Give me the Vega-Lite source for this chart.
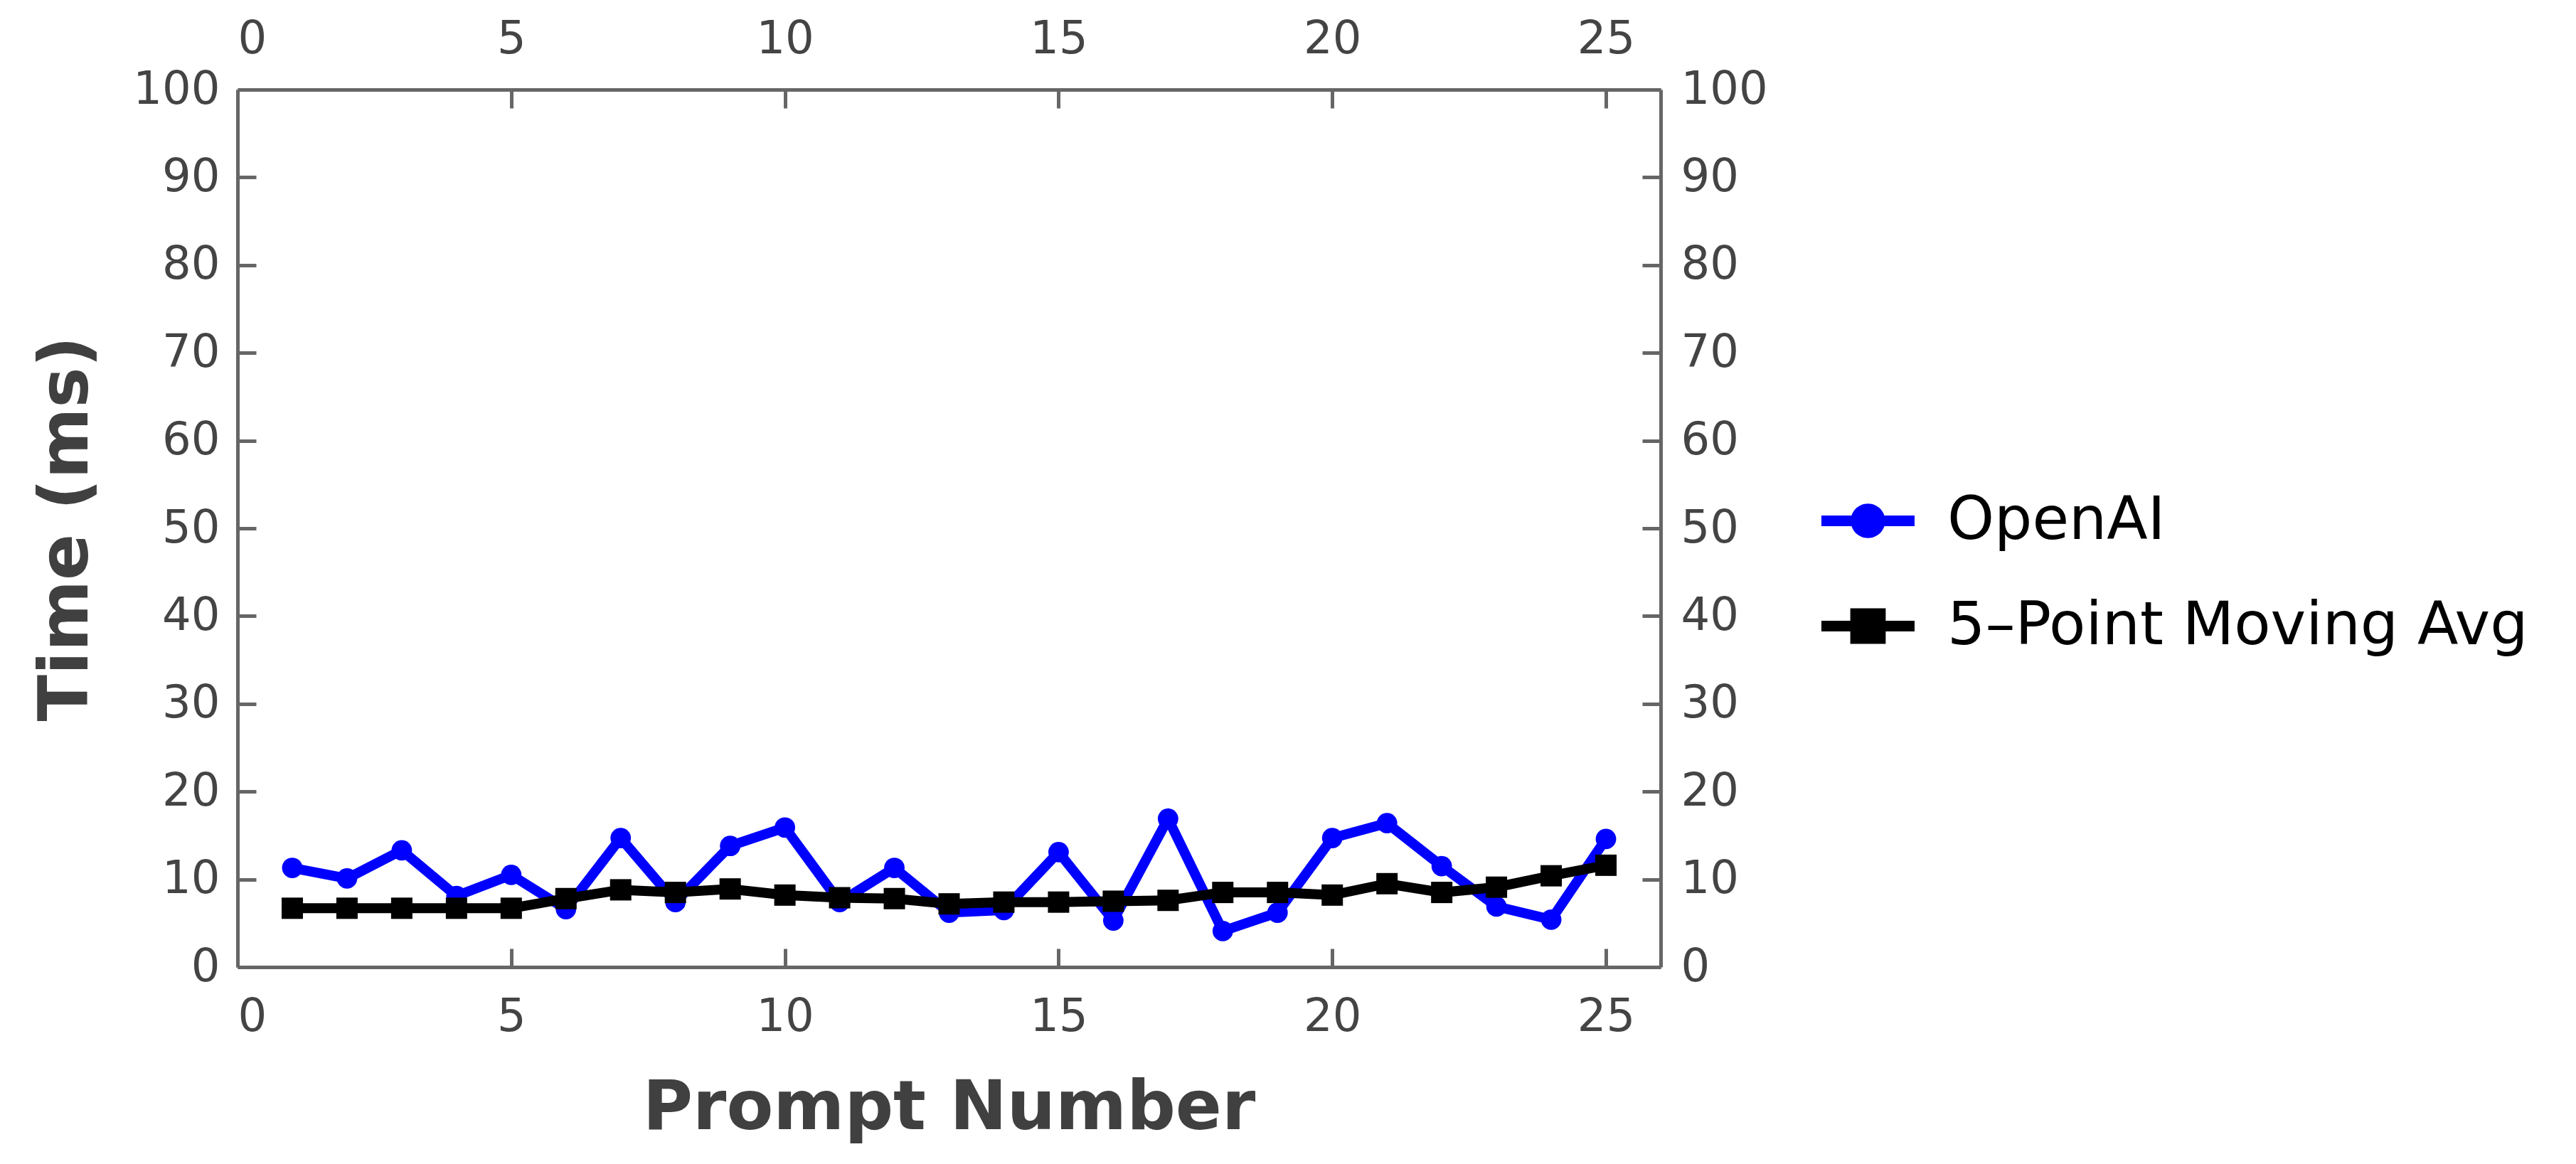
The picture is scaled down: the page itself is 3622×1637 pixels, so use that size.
{
  "$schema": "https://vega.github.io/schema/vega-lite/v6.json",
  "autosize": {"type": "none"},
  "padding": {"left": 334, "top": 126, "right": 1287, "bottom": 277},
  "width": 2001,
  "height": 1234,
  "background": "white",
  "config": {
    "view": {"stroke": null},
    "axis": {
      "grid": false,
      "domainColor": "#666666",
      "domainWidth": 5,
      "tickColor": "#666666",
      "tickWidth": 5,
      "tickSize": -26,
      "labelFont": "DejaVu Sans",
      "labelFontSize": 64,
      "labelColor": "#444444",
      "titleFont": "DejaVu Sans",
      "titleFontSize": 96,
      "titleFontWeight": "bold",
      "titleColor": "#404040"
    }
  },
  "data": {
    "values": [
      {"prompt": 1, "series": "OpenAI", "time": 11.3},
      {"prompt": 2, "series": "OpenAI", "time": 10.1},
      {"prompt": 3, "series": "OpenAI", "time": 13.3},
      {"prompt": 4, "series": "OpenAI", "time": 8.1},
      {"prompt": 5, "series": "OpenAI", "time": 10.5},
      {"prompt": 6, "series": "OpenAI", "time": 6.6},
      {"prompt": 7, "series": "OpenAI", "time": 14.7},
      {"prompt": 8, "series": "OpenAI", "time": 7.4},
      {"prompt": 9, "series": "OpenAI", "time": 13.8},
      {"prompt": 10, "series": "OpenAI", "time": 15.9},
      {"prompt": 11, "series": "OpenAI", "time": 7.4},
      {"prompt": 12, "series": "OpenAI", "time": 11.3},
      {"prompt": 13, "series": "OpenAI", "time": 6.2},
      {"prompt": 14, "series": "OpenAI", "time": 6.5},
      {"prompt": 15, "series": "OpenAI", "time": 13.1},
      {"prompt": 16, "series": "OpenAI", "time": 5.3},
      {"prompt": 17, "series": "OpenAI", "time": 16.9},
      {"prompt": 18, "series": "OpenAI", "time": 4.1},
      {"prompt": 19, "series": "OpenAI", "time": 6.2},
      {"prompt": 20, "series": "OpenAI", "time": 14.7},
      {"prompt": 21, "series": "OpenAI", "time": 16.4},
      {"prompt": 22, "series": "OpenAI", "time": 11.5},
      {"prompt": 23, "series": "OpenAI", "time": 6.9},
      {"prompt": 24, "series": "OpenAI", "time": 5.4},
      {"prompt": 25, "series": "OpenAI", "time": 14.6},
      {"prompt": 1, "series": "5–Point Moving Avg", "time": 6.7},
      {"prompt": 2, "series": "5–Point Moving Avg", "time": 6.7},
      {"prompt": 3, "series": "5–Point Moving Avg", "time": 6.7},
      {"prompt": 4, "series": "5–Point Moving Avg", "time": 6.7},
      {"prompt": 5, "series": "5–Point Moving Avg", "time": 6.7},
      {"prompt": 6, "series": "5–Point Moving Avg", "time": 7.8},
      {"prompt": 7, "series": "5–Point Moving Avg", "time": 8.8},
      {"prompt": 8, "series": "5–Point Moving Avg", "time": 8.5},
      {"prompt": 9, "series": "5–Point Moving Avg", "time": 8.9},
      {"prompt": 10, "series": "5–Point Moving Avg", "time": 8.2},
      {"prompt": 11, "series": "5–Point Moving Avg", "time": 7.9},
      {"prompt": 12, "series": "5–Point Moving Avg", "time": 7.8},
      {"prompt": 13, "series": "5–Point Moving Avg", "time": 7.2},
      {"prompt": 14, "series": "5–Point Moving Avg", "time": 7.4},
      {"prompt": 15, "series": "5–Point Moving Avg", "time": 7.4},
      {"prompt": 16, "series": "5–Point Moving Avg", "time": 7.5},
      {"prompt": 17, "series": "5–Point Moving Avg", "time": 7.6},
      {"prompt": 18, "series": "5–Point Moving Avg", "time": 8.5},
      {"prompt": 19, "series": "5–Point Moving Avg", "time": 8.5},
      {"prompt": 20, "series": "5–Point Moving Avg", "time": 8.2},
      {"prompt": 21, "series": "5–Point Moving Avg", "time": 9.5},
      {"prompt": 22, "series": "5–Point Moving Avg", "time": 8.5},
      {"prompt": 23, "series": "5–Point Moving Avg", "time": 9.1},
      {"prompt": 24, "series": "5–Point Moving Avg", "time": 10.4},
      {"prompt": 25, "series": "5–Point Moving Avg", "time": 11.6}
    ]
  },
  "encoding": {
    "x": {"field": "prompt", "type": "quantitative", "scale": {"domain": [0, 26], "nice": false}},
    "y": {"field": "time", "type": "quantitative", "scale": {"domain": [0, 100], "nice": false}}
  },
  "resolve": {"axis": {"x": "independent", "y": "independent"}},
  "layer": [
    {
      "transform": [{"filter": "datum.series === 'OpenAI'"}],
      "mark": {"type": "line", "color": "#0000ff", "strokeWidth": 14},
      "encoding": {
        "x": {"field": "prompt", "type": "quantitative",
          "axis": {"orient": "bottom", "values": [0, 5, 10, 15, 20, 25], "title": "Prompt Number",
            "labelPadding": 64, "titleX": 1000, "titleY": 227, "titleBaseline": "alphabetic", "titleAnchor": null}},
        "y": {"field": "time", "type": "quantitative",
          "axis": {"orient": "left", "values": [0, 10, 20, 30, 40, 50, 60, 70, 80, 90, 100], "title": "Time (ms)",
            "labelPadding": 51, "titleX": -212, "titleY": 617, "titleAngle": -90, "titleBaseline": "alphabetic", "titleAlign": "center"}}
      }
    },
    {
      "transform": [{"filter": "datum.series === 'OpenAI'"}],
      "mark": {"type": "point", "shape": "circle", "filled": true, "color": "#0000ff", "size": 830, "opacity": 1},
      "encoding": {
        "x": {"field": "prompt", "type": "quantitative",
          "axis": {"orient": "top", "values": [0, 5, 10, 15, 20, 25], "title": null, "labelPadding": 65}},
        "y": {"field": "time", "type": "quantitative",
          "axis": {"orient": "right", "values": [0, 10, 20, 30, 40, 50, 60, 70, 80, 90, 100], "title": null, "labelPadding": 54}}
      }
    },
    {
      "transform": [{"filter": "datum.series !== 'OpenAI'"}],
      "mark": {"type": "line", "color": "#000000", "strokeWidth": 14},
      "encoding": {
        "x": {"field": "prompt", "type": "quantitative", "axis": null},
        "y": {"field": "time", "type": "quantitative", "axis": null}
      }
    },
    {
      "transform": [{"filter": "datum.series !== 'OpenAI'"}],
      "mark": {"type": "point", "shape": "square", "filled": true, "color": "#000000", "size": 900, "opacity": 1},
      "encoding": {
        "x": {"field": "prompt", "type": "quantitative", "axis": null},
        "y": {"field": "time", "type": "quantitative", "axis": null}
      }
    },
    {
      "transform": [{"filter": "datum.prompt < 0"}],
      "mark": {"type": "point", "filled": true, "opacity": 1},
      "encoding": {
        "x": {"field": "prompt", "type": "quantitative", "axis": null},
        "y": {"field": "time", "type": "quantitative", "axis": null},
        "color": {
          "field": "series", "type": "nominal",
          "scale": {"domain": ["OpenAI", "5–Point Moving Avg"], "range": ["#0000ff", "#000000"]},
          "legend": {
            "title": null, "orient": "none", "legendX": 2227, "legendY": 541, "padding": 0,
            "symbolSize": 17161, "symbolStrokeWidth": 0, "labelFont": "DejaVu Sans", "labelFontSize": 84,
            "labelColor": "#000000", "labelOffset": 46, "rowPadding": 40, "labelLimit": 2000
          }
        },
        "shape": {
          "field": "series", "type": "nominal",
          "scale": {"domain": ["OpenAI", "5–Point Moving Avg"],
            "range": [
              "M-1,-0.115H1V0.115H-1Z M-0.37,0A0.37,0.37 0 1,1 0.37,0A0.37,0.37 0 1,1 -0.37,0Z",
              "M-1,-0.115H1V0.115H-1Z M-0.38,-0.38H0.38V0.38H-0.38Z"
            ]},
          "legend": {
            "title": null, "orient": "none", "legendX": 2227, "legendY": 541, "padding": 0,
            "symbolSize": 17161, "symbolStrokeWidth": 0, "labelFont": "DejaVu Sans", "labelFontSize": 84,
            "labelColor": "#000000", "labelOffset": 46, "rowPadding": 40, "labelLimit": 2000
          }
        }
      }
    }
  ]
}
